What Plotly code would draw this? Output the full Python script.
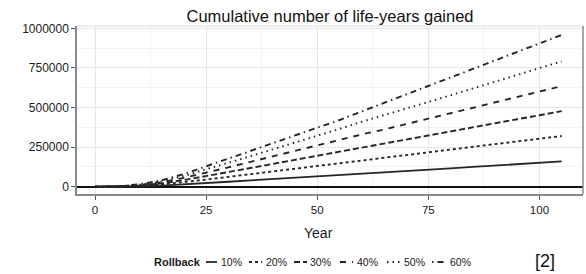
import plotly.graph_objects as go

years = [0, 5, 10, 15, 20, 25, 30, 35, 40, 45, 50, 55, 60, 65, 70, 75, 80, 85, 90, 95, 100, 105]

r10 = [0, 500, 2500, 7000, 14000, 23000, 31000, 40000, 48000, 57000, 66000, 74000, 82000,
       91000, 99000, 107000, 116000, 125000, 134000, 143000, 151000, 160000]
r20 = [0, 1000, 5000, 14000, 28000, 45000, 62000, 80000, 97000, 114000, 131000, 148000, 165000,
       183000, 200000, 217000, 234000, 251000, 269000, 286000, 303000, 320000]
r30 = [0, 1500, 8000, 21000, 42000, 66000, 92000, 118000, 144000, 170000, 196000, 222000, 248000,
       274000, 299000, 323000, 349000, 375000, 400000, 426000, 451000, 477000]
r40 = [0, 2000, 10000, 28000, 56000, 88000, 122000, 157000, 192000, 226000, 261000, 296000, 330000,
       361000, 395000, 429000, 463000, 497000, 532000, 566000, 600000, 635000]
r50 = [0, 2500, 12000, 34000, 68000, 108000, 150000, 193000, 236000, 278000, 320000, 365000, 410000,
       453000, 494000, 535000, 577000, 621000, 664000, 707000, 749000, 791000]
r60 = [0, 3000, 15000, 40000, 80000, 129000, 178000, 226000, 274000, 322000, 369000, 421000, 475000,
       529000, 583000, 637000, 690000, 744000, 797000, 851000, 904000, 958000]

series_names = ["10%", "20%", "30%", "40%", "50%", "60%"]
series_values = [r10, r20, r30, r40, r50, r60]
dashes = ["solid", "3px,3px", "6px,3px", "6px,6px", "1.5px,4px", "1.5px,4px,6px,4px"]

x_ticks = [0, 25, 50, 75, 100]
y_ticks = [0, 250000, 500000, 750000, 1000000]
y_ticklabels = ["0", "250000", "500000", "750000", "1000000"]

W, H = 586, 274
PL, PR, PT, PB = 77, 583, 26, 194
LINE_COL = "#262626"
FONT = "Liberation Sans, Arial, sans-serif"

fig = go.Figure()
for name, vals, d in zip(series_names, series_values, dashes):
    fig.add_trace(go.Scatter(x=years, y=vals, mode="lines", name=name,
                             line=dict(color=LINE_COL, width=1.9, dash=d),
                             showlegend=False))

def px2paper(px, py):
    return (px - PL) / (PR - PL), (PB - py) / (PB - PT)

shapes = []
annotations = []

# panel border pieces
shapes.append(dict(type="line", xref="paper", yref="paper", x0=0, x1=1, y0=1, y1=1,
                   line=dict(color="#dddddd", width=1)))
shapes.append(dict(type="line", xref="paper", yref="paper", x0=1, x1=1, y0=0, y1=1,
                   line=dict(color="#8a8a8a", width=1.5)))

# manual legend
ly = 262
x0, y0 = px2paper(152, ly)
annotations.append(dict(text="<b>Rollback</b>", xref="paper", yref="paper", x=x0, y=y0,
                        xanchor="left", yanchor="middle", showarrow=False,
                        font=dict(family=FONT, size=11, color="#1a1a1a")))
leg_lines = [(206, 217, 219), (249, 262, 264), (294, 307, 308), (340, 353, 355), (387, 400, 402), (432, 445, 448)]
for (a, b, t), name, d in zip(leg_lines, series_names, dashes):
    xa, yy = px2paper(a, ly)
    xb, _ = px2paper(b, ly)
    shapes.append(dict(type="line", xref="paper", yref="paper", x0=xa, x1=xb, y0=yy, y1=yy,
                       line=dict(color=LINE_COL, width=1.8, dash=d)))
    xt, _ = px2paper(t, ly)
    annotations.append(dict(text=name, xref="paper", yref="paper", x=xt, y=yy,
                            xanchor="left", yanchor="middle", showarrow=False,
                            font=dict(family=FONT, size=10.5, color="#1a1a1a")))

# axis title
xa, ya = px2paper(318, 233)
annotations.append(dict(text="Year", xref="paper", yref="paper", x=xa, y=ya,
                        xanchor="center", yanchor="middle", showarrow=False,
                        font=dict(family=FONT, size=14, color="#1a1a1a")))
# reference tag
xa, ya = px2paper(545, 261)
annotations.append(dict(text="[2]", xref="paper", yref="paper", x=xa, y=ya,
                        xanchor="center", yanchor="middle", showarrow=False,
                        font=dict(family=FONT, size=18, color="#111111")))

fig.update_layout(
    width=W, height=H,
    margin=dict(l=PL, r=W - PR, t=PT, b=H - PB, pad=0),
    paper_bgcolor="white", plot_bgcolor="white",
    title=dict(text="Cumulative number of life-years gained", x=0.5, xref="paper",
               y=1 - 16 / H, yref="container", xanchor="center", yanchor="middle",
               font=dict(family=FONT, size=16.5, color="#111111")),
    xaxis=dict(range=[-4.05, 109.8], tickvals=x_ticks, ticks="outside", ticklen=4,
               tickcolor="#555555", tickwidth=1.2, showline=True, linecolor="#8a8a8a",
               linewidth=1.5, showgrid=True, gridcolor="#e6e6e6", gridwidth=1,
               zeroline=False,
               minor=dict(dtick=12.5, showgrid=True, gridcolor="#f3f3f3", gridwidth=1),
               tickfont=dict(family=FONT, size=11.5, color="#1a1a1a")),
    yaxis=dict(range=[-46000, 1014500], tickvals=y_ticks, ticktext=y_ticklabels,
               ticks="outside", ticklen=4, tickcolor="#555555", tickwidth=1.2,
               showline=True, linecolor="#8a8a8a", linewidth=1.5,
               showgrid=True, gridcolor="#e6e6e6", gridwidth=1,
               zeroline=True, zerolinecolor="#111111", zerolinewidth=2,
               minor=dict(dtick=125000, showgrid=True, gridcolor="#f3f3f3", gridwidth=1),
               tickfont=dict(family=FONT, size=12, color="#1a1a1a")),
    shapes=shapes,
    annotations=annotations,
    showlegend=False,
)

fig.write_html("out.html", config={"displayModeBar": False},
               post_script="document.body.style.margin='0';document.body.style.padding='0';")
